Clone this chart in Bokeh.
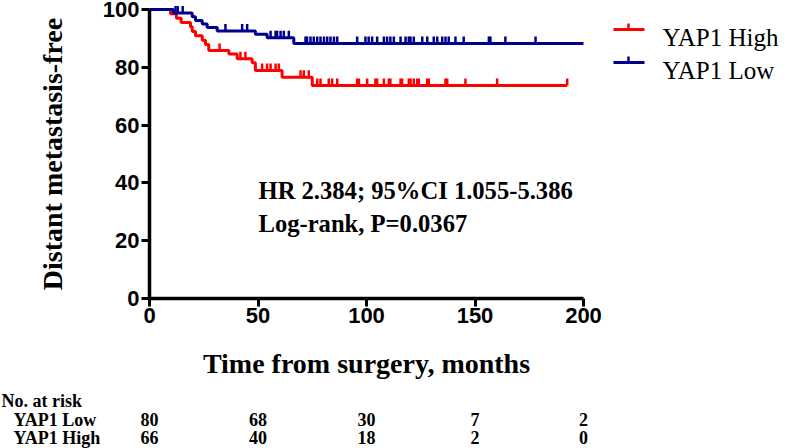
import math
from bokeh.plotting import figure
from bokeh.models import Range1d, Label, FixedTicker
from bokeh.embed import file_html
from bokeh.resources import INLINE

# ---------------- data ----------------
low_event_t = [11.0, 19.7, 21.2, 24.3, 26.6, 31.2, 48.8, 54.2, 66.5]
low_event_s = [98.75, 97.5, 96.2, 95.0, 93.8, 92.6, 91.4, 90.2, 88.2]
low_end_t = 200.0
low_censor_t = [12, 13, 15.3, 35, 42.7, 45, 55.8, 58.1, 58.8, 60.4, 61.9, 64.2,
                71.9, 72.6, 74.2, 75.7, 77.3, 78.8, 80.4, 81.9, 83.4, 85, 86.5,
                95.7, 99.5, 101, 102.6, 104.9, 108, 109.5, 111, 112.6, 115.7, 118,
                119.5, 120.3, 121.8, 125.7, 128, 131, 132.6, 134.9, 136.4, 137.9,
                141, 144.8, 156.4, 157.1, 164, 177.9]

high_event_t = [9.7, 12.4, 14.6, 18.9, 19.7, 21.2, 24.3, 25.8, 27.3, 36.6, 40.4,
                47.3, 48.8, 61.1, 75.0]
high_event_s = [98.5, 97.0, 95.5, 94.0, 92.4, 90.9, 89.4, 87.9, 85.8, 84.6, 83.0,
                81.6, 78.9, 76.6, 73.7]
high_end_t = 192.5
high_censor_t = [32.3, 41.9, 44.2, 51.9, 54.2, 55.8, 58.1, 59.6, 69.6, 71.1, 73.4,
                 77.3, 78.8, 82.6, 84.2, 86.5, 95.7, 96.5, 100.3, 104.1, 104.9, 108,
                 110.3, 111, 115.7, 116.4, 119.5, 120.3, 121.8, 123.4, 124.1, 128,
                 128.7, 136.4, 137.2, 145.6, 160.2, 192.5]

risk_times = [0, 50, 100, 150, 200]
risk_low = [80, 68, 30, 7, 2]
risk_high = [66, 40, 18, 2, 0]

x_ticks = [0, 50, 100, 150, 200]
y_ticks = [0, 20, 40, 60, 80, 100]

group_names = ["YAP1 High", "YAP1 Low"]
RED = "#FF0000"
BLUE = "#00008F"

# ---------------- geometry (frame covers the whole canvas) ----------------
W, H = 787, 448
X0_PX, Y0_PX, Y100_PX = 149, 298, 9      # where x=0, y=0 and y=100 sit
PXX = 434 / 200.0                         # pixels per month
PXY = (Y0_PX - Y100_PX) / 100.0           # pixels per percent


def xd(page_x):
    return (page_x - X0_PX) / PXX


def yd(page_y):
    return (Y0_PX - page_y) / PXY


def surv_at(t, ev_t, ev_s):
    s = 100.0
    for et, es in zip(ev_t, ev_s):
        if et <= t:
            s = es
    return s


p = figure(width=W, height=H,
           x_range=Range1d(xd(0), xd(W)), y_range=Range1d(yd(H), yd(0)),
           output_backend="svg", toolbar_location=None,
           min_border_left=0, min_border_right=0, min_border_top=0,
           min_border_bottom=0)
p.outline_line_color = None
p.xgrid.visible = False
p.ygrid.visible = False

for ax in (p.xaxis[0], p.yaxis[0]):
    ax.fixed_location = 0
    ax.axis_line_width = 3.5
    ax.axis_line_color = "black"
    ax.major_tick_line_width = 3
    ax.major_tick_line_color = "black"
    ax.major_tick_out = 8
    ax.major_tick_in = 0
    ax.minor_tick_line_color = None
    ax.major_label_text_font = "Liberation Sans"
    ax.major_label_text_font_style = "bold"
    ax.major_label_text_font_size = "22px"
    ax.major_label_text_color = "black"

p.xaxis.ticker = FixedTicker(ticks=x_ticks)
p.xaxis.bounds = (0, 200)
p.xaxis.major_label_standoff = 1
p.yaxis.ticker = FixedTicker(ticks=y_ticks)
p.yaxis.bounds = (0, 100)
p.yaxis.major_label_standoff = 2

# ---------------- curves ----------------
series = [
    (high_event_t, high_event_s, high_end_t, high_censor_t, RED),
    (low_event_t, low_event_s, low_end_t, low_censor_t, BLUE),
]
TICK_H = 7 / PXY
for ev_t, ev_s, end_t, cens_t, col in series:
    xs = [0] + list(ev_t) + [end_t]
    ys = [100] + list(ev_s) + [ev_s[-1]]
    p.step(xs, ys, mode="after", line_color=col, line_width=3)
    cy = [surv_at(t, ev_t, ev_s) for t in cens_t]
    p.segment(x0=cens_t, y0=cy, x1=cens_t, y1=[v + TICK_H for v in cy],
              line_color=col, line_width=2.5)

# ---------------- legend (drawn) ----------------
leg_line_y = [yd(29), yd(62)]
leg_cols = [RED, BLUE]
x0, x1, xm = xd(613), xd(644), xd(628)
p.segment(x0=[x0, x0], y0=leg_line_y, x1=[x1, x1], y1=leg_line_y,
          line_color=leg_cols, line_width=3)
p.segment(x0=[xm, xm], y0=leg_line_y, x1=[xm, xm],
          y1=[v + 6 / PXY for v in leg_line_y], line_color=leg_cols, line_width=2.5)


def serif_label(x, y, text, size, align="left", bold=True, angle=0.0):
    return Label(x=x, y=y, text=text, text_font="Liberation Serif",
                 text_font_style="bold" if bold else "normal",
                 text_font_size=size, text_color="black", angle=angle,
                 text_align=align, text_baseline="alphabetic")


for name, ly in zip(group_names, leg_line_y):
    p.add_layout(serif_label(xd(662), ly - 8 / PXY, name, "25px", bold=False))

# ---------------- titles and annotations ----------------
p.add_layout(serif_label(xd(52), 50, "Distant metastasis-free", "28px",
                         align="center", angle=math.pi / 2))
p.add_layout(serif_label(100, yd(363), "Time from surgery, months", "28px", align="center"))
p.add_layout(serif_label(xd(258), yd(190), "HR 2.384; 95%CI 1.055-5.386", "24.6px"))
p.add_layout(serif_label(xd(258), yd(223), "Log-rank, P=0.0367", "24.6px"))

# ---------------- number at risk table ----------------
p.add_layout(serif_label(xd(1), yd(400), "No. at risk", "18px"))
for name, row, by in [("YAP1 Low", risk_low, 419), ("YAP1 High", risk_high, 437)]:
    p.add_layout(serif_label(xd(13), yd(by), name, "18px"))
    for tt, n in zip(risk_times, row):
        p.add_layout(serif_label(tt, yd(by), str(n), "18px", align="center"))

open("out.html", "w").write(file_html(p, INLINE))
